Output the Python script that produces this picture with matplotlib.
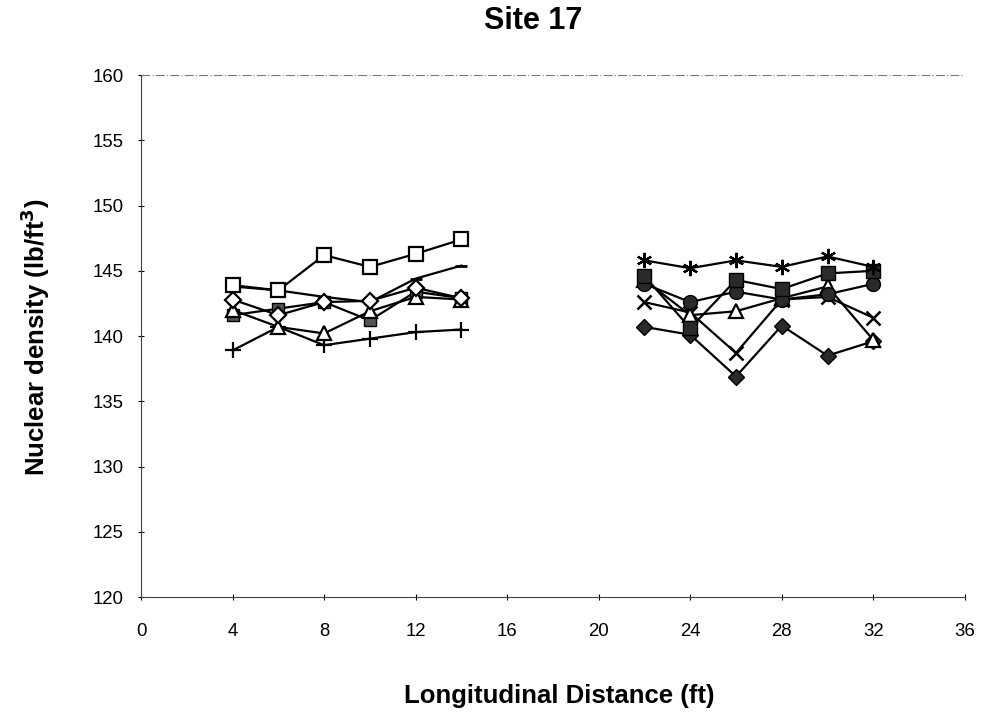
import numpy as np
import matplotlib
matplotlib.use("Agg")
import matplotlib.pyplot as plt

plt.rcParams['font.family'] = ['Liberation Sans', 'DejaVu Sans']

# left group: 4 - 14 ft
x_left = [4, 6, 8, 10, 12, 14]
open_square = [143.9, 143.5, 146.2, 145.3, 146.3, 147.4]
dash_line = [143.8, 143.5, 143.0, 142.6, 144.4, 145.4]
open_diamond = [142.8, 141.6, 142.6, 142.7, 143.7, 142.9]
open_triangle = [142.0, 140.7, 140.2, 141.9, 143.0, 142.8]
gray_square = [141.6, 142.1, 142.6, 141.2, 143.4, 142.9]
plus_left = [138.9, 140.7, 139.3, 139.8, 140.3, 140.5]

# right group: 22 - 32 ft
x_right = [22, 24, 26, 28, 30, 32]
star_right = [145.8, 145.2, 145.8, 145.3, 146.1, 145.3]
fill_square = [144.6, 140.6, 144.3, 143.6, 144.8, 145.0]
fill_circle = [144.0, 142.6, 143.4, 142.8, 143.2, 144.0]
tri_right = [144.3, 141.6, 141.9, 142.9, 143.8, 139.7]
x_marker = [142.6, 141.8, 138.7, 142.8, 143.0, 141.4]
fill_diamond = [140.7, 140.1, 136.9, 140.8, 138.5, 139.6]

fig = plt.figure(figsize=(9.83, 7.15), dpi=100)
ax = fig.add_axes([0.1435, 0.165, 0.838, 0.73])

lw = 1.6
k = 'black'
dk = '#2a2a2a'

# left series
ax.plot(x_left, gray_square, color=k, lw=lw, marker='s', ms=9, mfc='#555555', mec=k)
ax.plot(x_left, dash_line, color=k, lw=lw, marker='_', ms=9, mew=2)
ax.plot(x_left, plus_left, color=k, lw=lw, marker='+', ms=12, mew=1.6)
ax.plot(x_left, open_triangle, color=k, lw=lw, marker='^', ms=10, mfc='white', mec=k, mew=1.6)
ax.plot(x_left, open_diamond, color=k, lw=lw, marker='D', ms=8, mfc='white', mec=k, mew=1.6)
ax.plot(x_left, open_square, color=k, lw=lw, marker='s', ms=10, mfc='white', mec=k, mew=1.6)

# right series
ax.plot(x_right, fill_diamond, color=k, lw=lw, marker='D', ms=8, mfc=dk, mec=k)
ax.plot(x_right, x_marker, color=k, lw=lw, marker='x', ms=10, mew=1.8)
ax.plot(x_right, tri_right, color=k, lw=lw, marker='^', ms=10, mfc='white', mec=k, mew=1.6)
ax.plot(x_right, fill_circle, color=k, lw=lw, marker='o', ms=10, mfc=dk, mec=k)
ax.plot(x_right, fill_square, color=k, lw=lw, marker='s', ms=10, mfc=dk, mec=k)
ax.plot(x_right, star_right, color=k, lw=lw, marker=(6, 2, 0), ms=11, mew=1.6)

ax.set_xlim(0, 36)
ax.set_ylim(120, 160)
ax.set_xticks(np.arange(0, 37, 4))
ax.set_yticks(np.arange(120, 161, 5))
ax.tick_params(axis='both', labelsize=13.4, direction='inout', length=5, width=0.8)
ax.tick_params(axis='x', pad=16)
ax.tick_params(axis='y', pad=10)

for side in ['top', 'right']:
    ax.spines[side].set_visible(False)
ax.spines['left'].set_color('#444444')
ax.spines['bottom'].set_color('#444444')
ax.axhline(160, color='#777777', lw=0.8, ls=(0, (8, 2, 1, 2)))

fig.text(559 / 983, 1 - 696 / 715, 'Longitudinal Distance (ft)', fontsize=18.5,
         fontweight='bold', ha='center', va='center')
fig.text(35 / 983, 1 - 337 / 715, 'Nuclear density (lb/ft$^\\mathbf{3}$)', fontsize=18.5,
         fontweight='bold', ha='center', va='center', rotation=90)
fig.text(533 / 983, 1 - 21 / 715, 'Site 17', fontsize=22, fontweight='bold',
         ha='center', va='center')

fig.savefig('out.png', dpi=100)
